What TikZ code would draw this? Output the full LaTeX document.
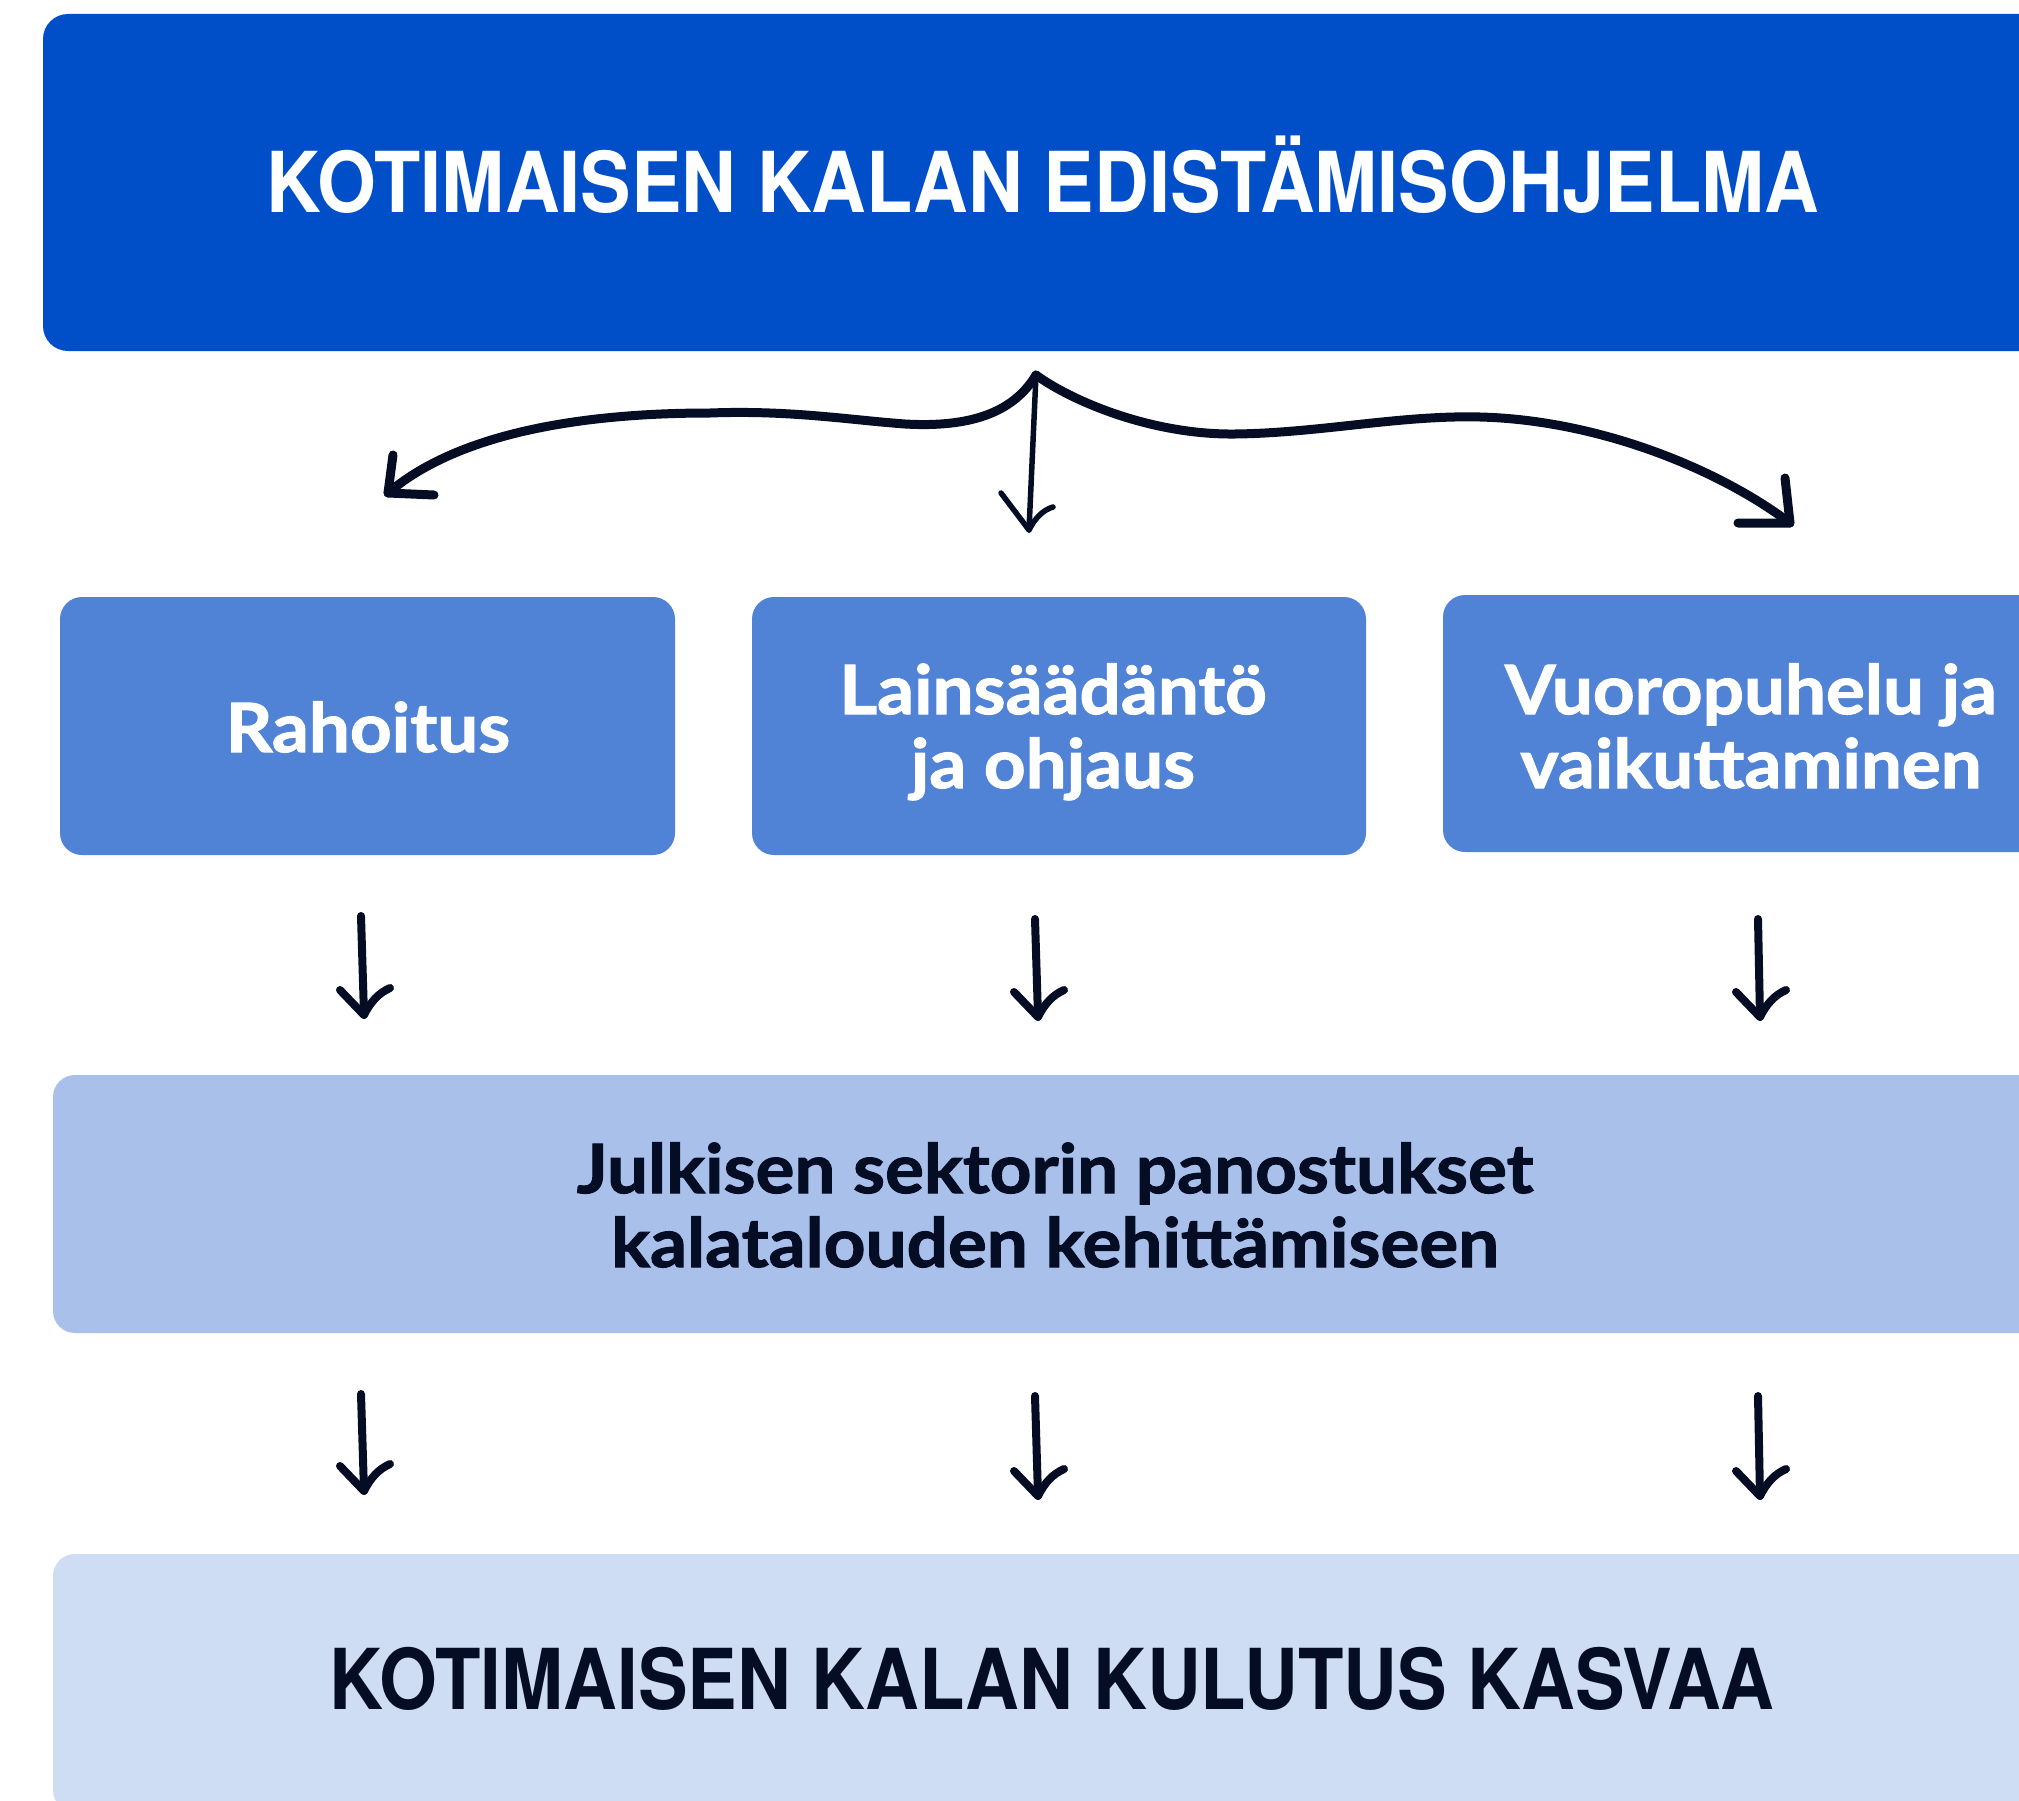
\documentclass[tikz,border=0pt]{standalone}
\usepackage{fontspec}
\usepackage{graphicx}
\setmainfont{Lato}
\newfontfamily\headfont{TeX Gyre Heros}
\newfontfamily\bodyfont{Lato}[FakeStretch=1.07, BoldFeatures={FakeBold=1.6}]
\usetikzlibrary{calc}
\definecolor{topblue}{HTML}{014FC8}
\definecolor{midblue}{HTML}{5083D6}
\definecolor{lightblue}{HTML}{A8C0EA}
\definecolor{paleblue}{HTML}{CEDCF4}
\definecolor{ink}{HTML}{050D24}
\begin{document}
\begin{tikzpicture}[x=1pt,y=-1pt,
  box/.style={rectangle, inner sep=0pt, outer sep=0pt, rounded corners=22pt},
  headtxt/.style={inner sep=0pt, anchor=base, font=\headfont\bfseries\fontsize{84}{84}\selectfont},
  lbl/.style={inner sep=0pt, anchor=base, align=center, font=\bodyfont\bfseries\fontsize{68}{74}\selectfont},
  conn/.style={draw=ink, line width=8pt, line cap=round, line join=round},
  curve/.style={draw=ink, line width=9pt, line cap=round, line join=round},
  thin/.style={draw=ink, line width=5.5pt, line cap=round, line join=round},
  dhead/.pic={\draw[conn] (-24,-25) -- (0,0) .. controls (7,-14) and (15,-22) .. (26,-27);}
]
\useasboundingbox (0,0) rectangle (2019,1801);
\clip (0,0) rectangle (2019,1801);
\fill[white] (0,0) rectangle (2019,1801);

% boxes
\node[box, fill=topblue, rounded corners=25pt, minimum width=2017pt, minimum height=337pt] (top) at (1051.5,182.5) {};
\node[box, fill=midblue, minimum width=615pt, minimum height=258pt] (b1) at (367.5,726) {};
\node[box, fill=midblue, minimum width=614pt, minimum height=258pt] (b2) at (1059,726) {};
\node[box, fill=midblue, minimum width=617pt, minimum height=257pt] (b3) at (1751.5,723.5) {};
\node[box, fill=lightblue, minimum width=2007pt, minimum height=258pt] (mid) at (1056.5,1204) {};
\node[box, fill=paleblue, minimum width=2007pt, minimum height=258pt] (bot) at (1056.5,1683) {};

% texts
\node[headtxt, text=white] (toptxt) at (1043,212) {\scalebox{0.901}[1]{KOTIMAISEN KALAN EDISTÄMISOHJELMA}};
\node[lbl, text=white] (t1) at (368,752) {Rahoitus};
\node[lbl, text=white] (t2) at (1053,788) {Lainsäädäntö\\ja ohjaus};
\node[lbl, text=white] (t3) at (1751,788) {Vuoropuhelu ja\\vaikuttaminen};
\node[lbl, text=ink] (tm) at (1055,1267) {Julkisen sektorin panostukset\\kalatalouden kehittämiseen};
\node[headtxt, text=ink] (bottxt) at (1052,1709) {\scalebox{0.886}[1]{KOTIMAISEN KALAN KULUTUS KASVAA}};

% curved connectors from the top box
\coordinate (apex) at (1036,375);
\coordinate (lt) at (388,493);
\coordinate (ct) at (1029,530);
\coordinate (rt) at (1790,523);
\draw[curve] (apex) .. controls (1015,410) and (975,428) .. (905,424)
  .. controls (850,420) and (790,410) .. (710,413)
  .. controls (560,413) and (450,440) .. (lt);
\draw[curve] ($(lt)+(5,-38)$) -- (lt) -- ($(lt)+(46,2)$);
\draw[curve] (apex) .. controls (1070,400) and (1150,435) .. (1235,434)
  .. controls (1320,433) and (1400,415) .. (1480,417)
  .. controls (1600,420) and (1720,470) .. (rt);
\draw[curve] ($(rt)+(-5,-45)$) -- (rt) -- ($(rt)+(-52,0)$);
\draw[thin] (apex) -- (ct);
\draw[thin] ($(ct)+(-28,-37)$) -- (ct) .. controls ($(ct)+(6,-12)$) and ($(ct)+(14,-20)$) .. ($(ct)+(24,-23)$);

% straight connectors
\coordinate (a1s) at (361,916);  \coordinate (a1e) at (364,1015);
\coordinate (a2s) at (1035,919); \coordinate (a2e) at (1038,1017);
\coordinate (a3s) at (1758,919); \coordinate (a3e) at (1760,1017);
\coordinate (a4s) at (361,1394); \coordinate (a4e) at (364,1491);
\coordinate (a5s) at (1035,1396); \coordinate (a5e) at (1038,1496);
\coordinate (a6s) at (1758,1396); \coordinate (a6e) at (1760,1496);
\foreach \i in {1,...,6}{
  \draw[conn] (a\i s) -- (a\i e);
  \pic at (a\i e) {dhead};
}
\end{tikzpicture}
\end{document}
